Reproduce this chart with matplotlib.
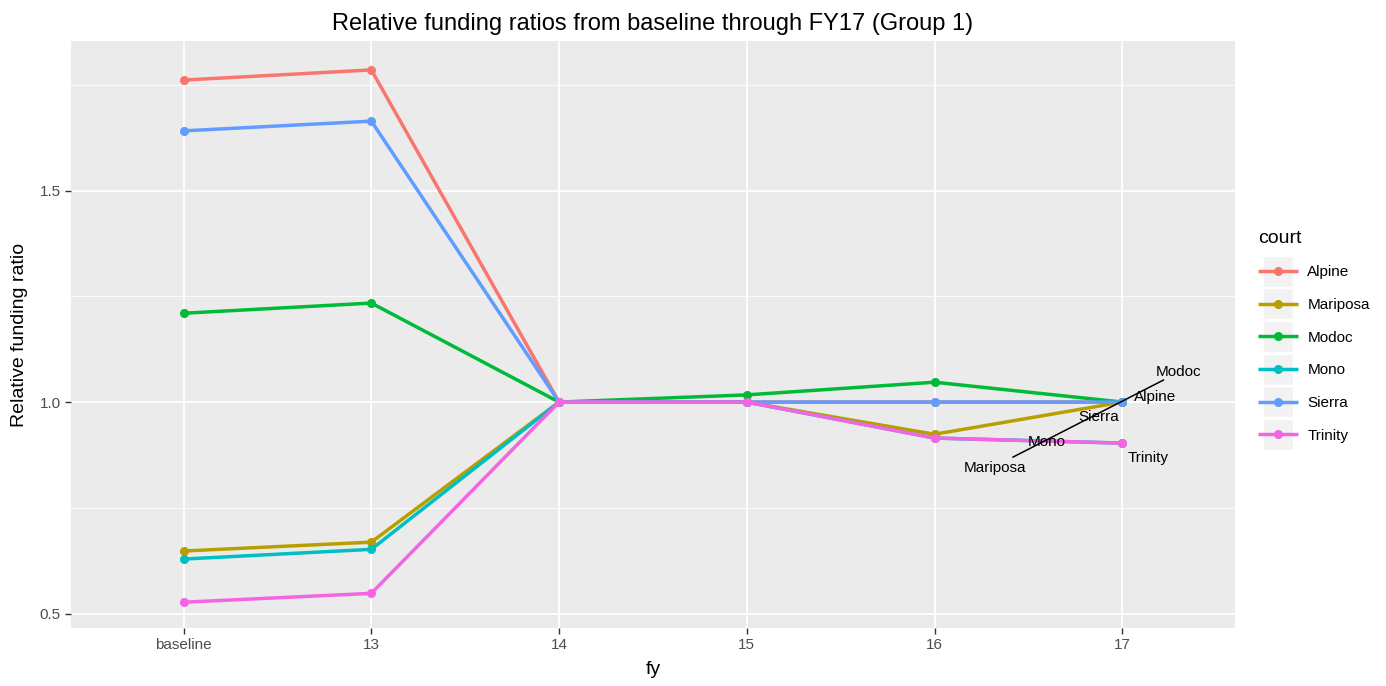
import matplotlib
matplotlib.use("Agg")
import matplotlib.pyplot as plt
from matplotlib.patches import Rectangle

plt.rcParams['font.family'] = ['Liberation Sans', 'DejaVu Sans']

# fiscal years on the x axis
fy = ["baseline", "13", "14", "15", "16", "17"]

courts = ["Alpine", "Mariposa", "Modoc", "Mono", "Sierra", "Trinity"]
colors = ["#F8766D", "#B79F00", "#00BA38", "#00BFC4", "#619CFF", "#F564E3"]

alpine = [1.761, 1.785, 1.0, 1.0, 1.0, 1.0]
mariposa = [0.648, 0.669, 1.0, 1.0, 0.924, 1.0]
modoc = [1.210, 1.234, 1.0, 1.017, 1.047, 1.0]
mono = [0.629, 0.652, 1.0, 1.0, 0.915, 0.903]
sierra = [1.641, 1.664, 1.0, 1.0, 1.0, 1.0]
trinity = [0.527, 0.548, 1.0, 1.0, 0.915, 0.903]
series = [alpine, mariposa, modoc, mono, sierra, trinity]

# direct labels near the end of the lines (x as category index)
lab_x = [5.176, 4.322, 5.299, 4.600, 4.872, 5.139]
lab_y = [1.012, 0.844, 1.071, 0.905, 0.965, 0.868]
# stray leader segment drawn by the labeller
seg_x = [4.418, 5.219]
seg_y = [0.870, 1.052]

fig = plt.figure(figsize=(13.86, 6.86), dpi=100)
ax = fig.add_axes([0.0512, 0.0845, 0.8398, 0.8555])
ax.set_facecolor("#EBEBEB")
for s in ax.spines.values():
    s.set_visible(False)

xs = list(range(len(fy)))
for name, vals, c in zip(courts, series, colors):
    ax.plot(xs, vals, color=c, lw=2.5, marker="o", ms=5.5, label=name,
            solid_capstyle="butt", zorder=3)

for name, x, y in zip(courts, lab_x, lab_y):
    ax.text(x, y, name, ha="center", va="center", fontsize=11, color="black", zorder=5)
ax.plot(seg_x, seg_y, color="black", lw=1.1, zorder=4)

ax.set_xlim(-0.6, 5.6)
ax.set_ylim(0.466, 1.853)
ax.set_xticks(xs)
ax.set_xticklabels(fy)
ax.set_yticks([0.5, 1.0, 1.5])
ax.set_yticklabels(["0.5", "1.0", "1.5"])
ax.set_yticks([0.75, 1.25, 1.75], minor=True)
ax.grid(True, which="major", color="white", lw=1.3, zorder=0)
ax.grid(True, which="minor", axis="y", color="white", lw=0.6, zorder=0)
ax.set_axisbelow(True)
ax.tick_params(axis="both", which="major", colors="#333333", labelcolor="#4D4D4D",
               labelsize=11, length=4, width=1)
ax.tick_params(axis="y", which="minor", length=0)

ax.set_xlabel("fy", fontsize=14, labelpad=6)
ax.set_ylabel("Relative funding ratio", fontsize=14, labelpad=8)
ax.set_title("Relative funding ratios from baseline through FY17 (Group 1)",
             fontsize=17, pad=8)

leg = fig.legend(loc="upper left", bbox_to_anchor=(0.898, 0.685), frameon=False,
                 title="court", fontsize=11, title_fontsize=14, handlelength=2.6,
                 labelspacing=1.22, handletextpad=0.6, alignment="left")

# grey key boxes like ggplot
fig.canvas.draw()
r = fig.canvas.get_renderer()
for h in leg.legend_handles:
    bb = h.get_window_extent(r)
    cx, cy = (bb.x0 + bb.x1) / 2, (bb.y0 + bb.y1) / 2
    w, hgt = 30, 31
    fig.patches.append(Rectangle(((cx - w / 2) / fig.bbox.width, (cy - hgt / 2) / fig.bbox.height),
                                 w / fig.bbox.width, hgt / fig.bbox.height,
                                 transform=fig.transFigure, facecolor="#F2F2F2",
                                 edgecolor="white", lw=1, zorder=-1))

fig.savefig("out.png", dpi=100)
